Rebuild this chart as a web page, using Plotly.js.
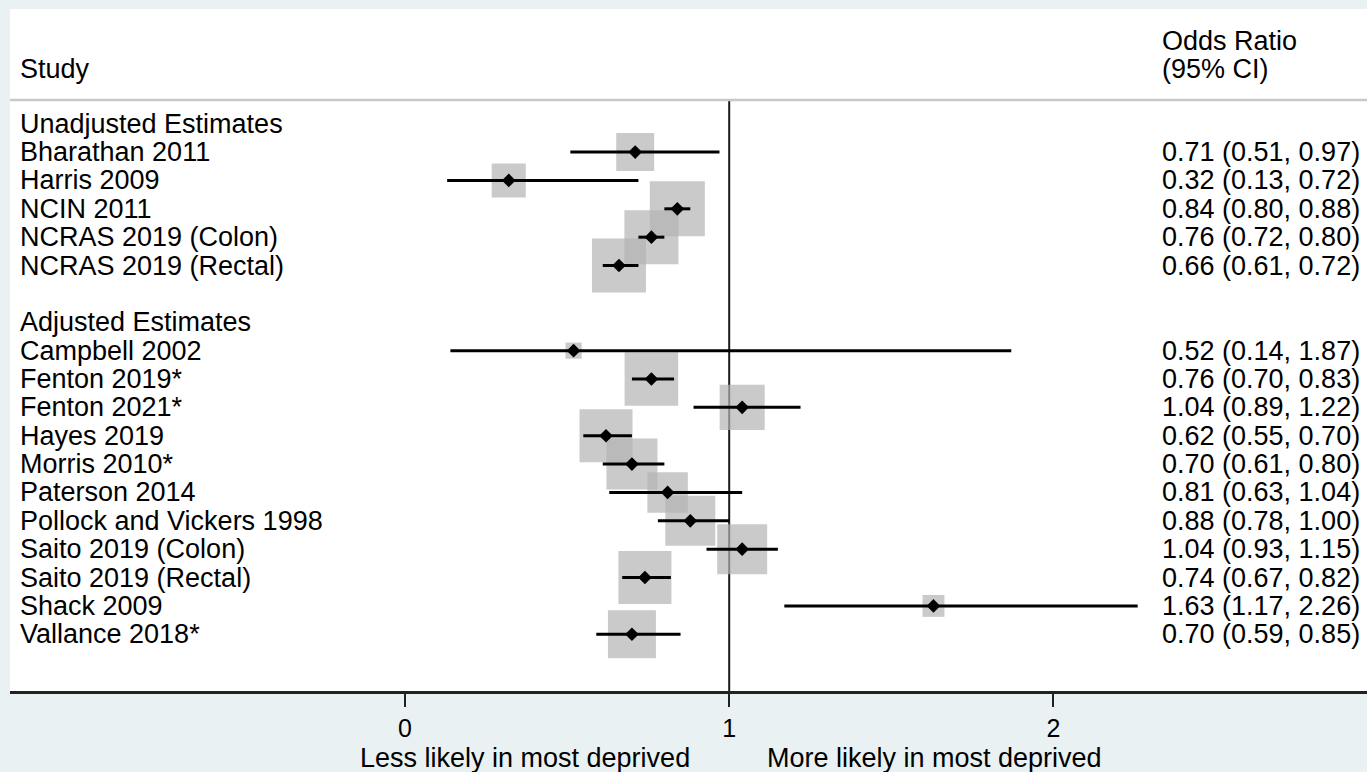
<!DOCTYPE html>
<html>
<head>
<meta charset="utf-8">
<script src="https://cdn.plot.ly/plotly-3.0.1.min.js"></script>
<style>
  html, body { margin: 0; padding: 0; background: #e9f1f3; }
  #chart { width: 1367px; height: 772px; }
</style>
</head>
<body>
<div id="chart"></div>
<script>
// ---- data ----
const groupNames = ["Unadjusted Estimates", "Adjusted Estimates"];
const studyNames = [
  "Bharathan 2011", "Harris 2009", "NCIN 2011", "NCRAS 2019 (Colon)", "NCRAS 2019 (Rectal)",
  "Campbell 2002", "Fenton 2019*", "Fenton 2021*", "Hayes 2019", "Morris 2010*",
  "Paterson 2014", "Pollock and Vickers 1998", "Saito 2019 (Colon)", "Saito 2019 (Rectal)",
  "Shack 2009", "Vallance 2018*"
];
const studyGroup = [0, 0, 0, 0, 0, 1, 1, 1, 1, 1, 1, 1, 1, 1, 1, 1];
const oddsRatio = [0.71, 0.32, 0.84, 0.76, 0.66, 0.52, 0.76, 1.04, 0.62, 0.70, 0.81, 0.88, 1.04, 0.74, 1.63, 0.70];
const ciLower  = [0.51, 0.13, 0.80, 0.72, 0.61, 0.14, 0.70, 0.89, 0.55, 0.61, 0.63, 0.78, 0.93, 0.67, 1.17, 0.59];
const ciUpper  = [0.97, 0.72, 0.88, 0.80, 0.72, 1.87, 0.83, 1.22, 0.70, 0.80, 1.04, 1.00, 1.15, 0.82, 2.26, 0.85];
// relative study weights (box area)
const weights  = [14.4, 11.6, 30.3, 29.2, 29.2, 2.6, 28.7, 20.3, 28.1, 26.0, 16.4, 25.0, 25.0, 28.1, 4.8, 23.0];
const tickValues = [0, 1, 2];
const tickLabels = ["0", "1", "2"];
const leftAxisNote = "Less likely in most deprived";
const rightAxisNote = "More likely in most deprived";

// ---- row layout ----
const rowOfStudy = [];
const groupRow = [];
let row = 0;
groupNames.forEach((g, gi) => {
  if (gi > 0) row += 1;          // blank row between groups
  groupRow.push(row);
  row += 1;
  studyNames.forEach((s, si) => {
    if (studyGroup[si] === gi) { rowOfStudy[si] = row; row += 1; }
  });
});

const FONT = "Liberation Sans, Arial, Helvetica, sans-serif";
const fs = 27;

const boxTrace = {
  type: "scatter", mode: "markers",
  x: oddsRatio, y: rowOfStudy,
  marker: { symbol: "square", color: "#b4b4b4", size: weights.map(w => 10 * Math.sqrt(w)), line: { width: 0 } },
  hoverinfo: "skip", showlegend: false
};
const ciTrace = {
  type: "scatter", mode: "markers",
  x: oddsRatio, y: rowOfStudy,
  marker: { symbol: "diamond", color: "#000", size: 10.5, line: { width: 0 } },
  error_x: {
    type: "data", symmetric: false,
    array: ciUpper.map((u, i) => u - oddsRatio[i]),
    arrayminus: ciLower.map((l, i) => oddsRatio[i] - l),
    color: "#000", thickness: 3, width: 0
  },
  text: studyNames, hoverinfo: "text+x", showlegend: false
};

const annotations = [];
groupNames.forEach((g, gi) => {
  annotations.push({ xref: "paper", yref: "y", x: 0, y: groupRow[gi], xanchor: "left", yanchor: "middle",
    xshift: 8, text: g, showarrow: false, font: { family: FONT, size: fs, color: "#000" } });
});
studyNames.forEach((s, si) => {
  annotations.push({ xref: "paper", yref: "y", x: 0, y: rowOfStudy[si], xanchor: "left", yanchor: "middle",
    xshift: 8, text: s, showarrow: false, font: { family: FONT, size: fs, color: "#000" } });
  const lbl = oddsRatio[si].toFixed(2) + " (" + ciLower[si].toFixed(2) + ", " + ciUpper[si].toFixed(2) + ")";
  annotations.push({ xref: "paper", yref: "y", x: 0.849, y: rowOfStudy[si], xanchor: "left", yanchor: "middle",
    xshift: -2, text: lbl, showarrow: false, font: { family: FONT, size: fs, color: "#000" } });
});
// headers
annotations.push({ xref: "paper", yref: "paper", x: 0, y: 1.0525, xanchor: "left", yanchor: "middle", xshift: 8,
  text: "Study", showarrow: false, font: { family: FONT, size: fs, color: "#000" } });
annotations.push({ xref: "paper", yref: "paper", x: 0.849, y: 1.0998, xanchor: "left", yanchor: "middle", xshift: -2,
  text: "Odds Ratio", showarrow: false, font: { family: FONT, size: fs, color: "#000" } });
annotations.push({ xref: "paper", yref: "paper", x: 0.849, y: 1.0525, xanchor: "left", yanchor: "middle", xshift: -2,
  text: "(95% CI)", showarrow: false, font: { family: FONT, size: fs, color: "#000" } });
// axis notes
annotations.push({ xref: "paper", yref: "paper", x: 0.3795, y: -0.1134, xanchor: "center", yanchor: "middle",
  text: leftAxisNote, showarrow: false, font: { family: FONT, size: fs, color: "#000" } });
annotations.push({ xref: "paper", yref: "paper", x: 0.681, y: -0.1134, xanchor: "center", yanchor: "middle",
  text: rightAxisNote, showarrow: false, font: { family: FONT, size: fs, color: "#000" } });

const layout = {
  width: 1367, height: 772,
  margin: { l: 10, r: 0, t: 100, b: 81, pad: 0 },
  paper_bgcolor: "#e9f1f3",
  plot_bgcolor: "#ffffff",
  showlegend: false,
  xaxis: {
    range: [-1.2184, 2.9673], autorange: false,
    tickvals: tickValues, ticktext: tickLabels,
    ticks: "outside", ticklen: 13, tickwidth: 2, tickcolor: "#222",
    showline: true, linecolor: "#222", linewidth: 2.5,
    showgrid: false, zeroline: false,
    tickfont: { family: FONT, size: 25, color: "#000" },
    fixedrange: true
  },
  yaxis: {
    range: [20.0, -0.836], autorange: false, visible: false,
    showgrid: false, zeroline: false, fixedrange: true
  },
  shapes: [
    { type: "rect", xref: "paper", yref: "paper", x0: 0, x1: 1, y0: 0, y1: 1.154,
      fillcolor: "#ffffff", line: { width: 0 }, layer: "below" },
    { type: "line", xref: "paper", yref: "paper", x0: 0, x1: 1, y0: 1, y1: 1,
      line: { color: "#c8c8c8", width: 2.5 } },
    { type: "line", xref: "x", yref: "paper", x0: 1, x1: 1, y0: 0, y1: 1,
      line: { color: "#1a1a1a", width: 2 }, layer: "below" }
  ],
  annotations: annotations
};

Plotly.newPlot("chart", [boxTrace, ciTrace], layout, { displayModeBar: false, staticPlot: true });
</script>
</body>
</html>
